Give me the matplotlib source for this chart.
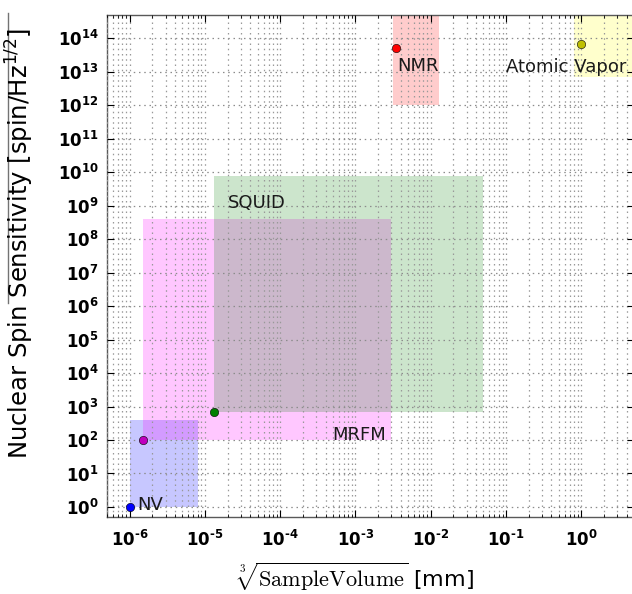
import matplotlib
matplotlib.use("Agg")
import matplotlib.pyplot as plt
from matplotlib.patches import Rectangle
from matplotlib.lines import Line2D
from matplotlib.ticker import LogLocator, NullFormatter, FuncFormatter, NullLocator
import numpy as np

# ---- data ----
names = ["NV", "MRFM", "SQUID", "NMR", "Atomic Vapor"]
point_x = [1e-6, 1.5e-6, 1.3e-5, 3.5e-3, 1.0]
point_y = [1.0, 1e2, 7e2, 5e13, 7e13]
rect_x0 = [1e-6, 1.5e-6, 1.3e-5, 3.2e-3, 0.8]
rect_x1 = [8e-6, 3e-3, 5e-2, 1.3e-2, 10.0]
rect_y0 = [1.0, 1e2, 7e2, 1e12, 7e12]
rect_y1 = [4e2, 4e8, 8e9, 1e15, 1e15]
point_colors = ["b", "m", "g", "r", "y"]
rect_colors = ["#0000ff", "#ff00ff", "#008000", "#ff0000", "#ffff00"]
rect_alpha = [0.22, 0.22, 0.2, 0.2, 0.2]
xticks = [1e-6, 1e-5, 1e-4, 1e-3, 1e-2, 1e-1, 1e0]
yticks = [10.0 ** k for k in range(0, 15)]

# label anchors: (anchor type, offset px, ha)
label_cfg = [
    ("point", (8, -3), "left"),
    ("rect_br", (-5, 0), "right"),
    ("rect_tl", (14, -32), "left"),
    ("point", (1, -23), "left"),
    ("point", (-75, -28), "left"),
]

fig = plt.figure(figsize=(6.32, 5.94), dpi=100)
ax = fig.add_axes([107 / 632, 1 - 517 / 594, 1.003 - 107 / 632, (517 - 15) / 594])
ax.set_xscale("log")
ax.set_yscale("log")
ax.set_xlim(5e-7, 5)
ax.set_ylim(0.5, 5e14)

for i in range(len(names)):
    ax.add_patch(Rectangle((rect_x0[i], rect_y0[i]), rect_x1[i] - rect_x0[i],
                           rect_y1[i] - rect_y0[i], facecolor=rect_colors[i],
                           alpha=rect_alpha[i], edgecolor="none", zorder=1))

for i in range(len(names)):
    ax.plot([point_x[i]], [point_y[i]], "o", color=point_colors[i], ms=6,
            mec="k", mew=0.4, zorder=4)

for i, (kind, off, ha) in enumerate(label_cfg):
    if kind == "point":
        xy = (point_x[i], point_y[i])
    elif kind == "rect_br":
        xy = (rect_x1[i], rect_y0[i])
    else:
        xy = (rect_x0[i], rect_y1[i])
    ax.annotate(names[i], xy=xy, xytext=off, textcoords="offset pixels",
                ha=ha, va="baseline", fontsize=13, color="#1a1a1a", zorder=5)


def fmt(v, pos):
    k = int(round(np.log10(v)))
    s = str(k).replace("-", "\u2010")
    return r"$\mathbf{10^{%s}}$" % s


ax.set_xticks(xticks)
ax.set_yticks(yticks)
ax.xaxis.set_major_formatter(FuncFormatter(fmt))
ax.yaxis.set_major_formatter(FuncFormatter(fmt))
ax.xaxis.set_minor_locator(LogLocator(base=10, subs=range(2, 10), numticks=100))
ax.xaxis.set_minor_formatter(NullFormatter())
ax.yaxis.set_minor_locator(NullLocator())

ax.grid(True, which="major", axis="y", color="0.55", linestyle=(0, (1.2, 3)), linewidth=0.9)
ax.grid(True, which="both", axis="x", color="0.6", linestyle=(0, (1.2, 3)), linewidth=0.9)
ax.set_axisbelow(False)

ax.tick_params(which="both", direction="in", top=True, right=True)
ax.tick_params(which="major", length=5, width=0.8, labelsize=12)
ax.tick_params(axis="x", which="major", pad=9)
ax.tick_params(axis="y", which="major", pad=6)
ax.tick_params(which="minor", length=2.5, width=0.6)
for s in ax.spines.values():
    s.set_color("0.35")
    s.set_linewidth(1.0)

fig.text(20 / 632, 1 - 244 / 594,
         "Nuclear Spin Sensitivity [spin/Hz$^{1/2}$]",
         rotation=90, ha="center", va="center", fontsize=17.5)
fig.add_artist(Line2D([8 / 632, 8 / 632], [1 - 13 / 594, 1 - 303 / 594],
                      transform=fig.transFigure, color="0.45", lw=1.0))
fig.text(355 / 632, 1 - 577 / 594,
         r"$\sqrt[3]{\mathrm{SampleVolume}}$ [mm]",
         ha="center", va="center", fontsize=16, math_fontfamily="cm")

fig.savefig("out.png", dpi=100)
